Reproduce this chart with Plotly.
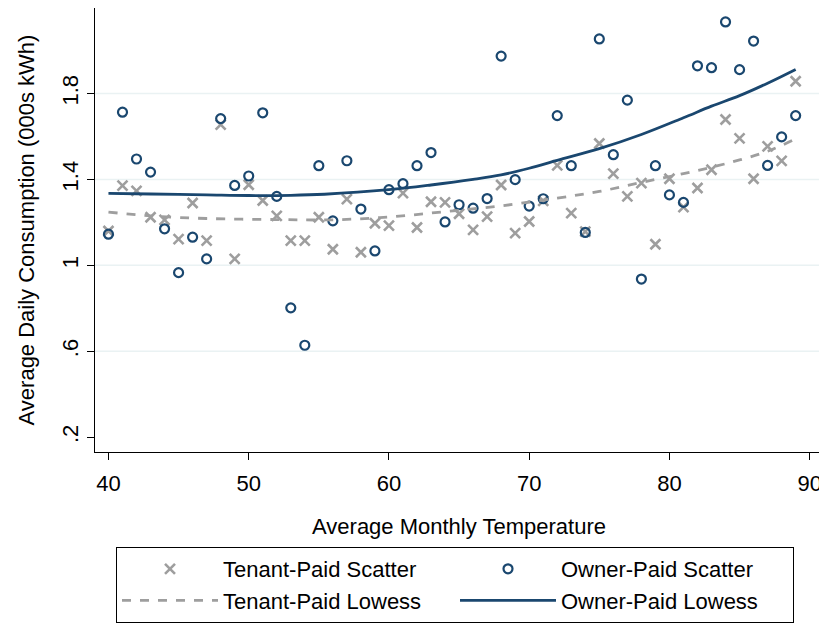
import plotly.graph_objects as go

temps = list(range(40, 90))

tenant_paid = [1.16, 1.371, 1.347, 1.224, 1.212, 1.122, 1.290, 1.115, 1.655, 1.030,
               1.375, 1.302, 1.230, 1.115, 1.115, 1.224, 1.075, 1.308, 1.061, 1.196,
               1.185, 1.336, 1.176, 1.296, 1.293, 1.240, 1.165, 1.227, 1.374, 1.150,
               1.204, 1.300, 1.465, 1.243, 1.157, 1.567, 1.427, 1.321, 1.383, 1.098,
               1.403, 1.271, 1.360, 1.445, 1.679, 1.591, 1.403, 1.554, 1.486, 1.857]

owner_paid = [1.145, 1.713, 1.495, 1.434, 1.170, 0.966, 1.131, 1.030, 1.683, 1.372,
              1.416, 1.710, 1.321, 0.802, 0.628, 1.464, 1.207, 1.487, 1.262, 1.067,
              1.352, 1.380, 1.464, 1.525, 1.202, 1.282, 1.266, 1.311, 1.974, 1.399,
              1.276, 1.310, 1.697, 1.464, 1.153, 2.054, 1.515, 1.769, 0.936, 1.464,
              1.328, 1.293, 1.929, 1.920, 2.133, 1.911, 2.044, 1.465, 1.598, 1.697]

lowess_x_owner = [40, 43, 47, 50, 53, 55.4, 60, 63, 66, 68, 70, 72, 75, 78, 81, 83, 85, 87, 89]
owner_lowess = [1.335, 1.332, 1.328, 1.325, 1.326, 1.331, 1.352, 1.374, 1.400, 1.421, 1.452,
                1.489, 1.543, 1.609, 1.687, 1.741, 1.790, 1.848, 1.912]

lowess_x_tenant = [40, 43, 47, 52, 56, 60, 64, 68, 72, 75, 78, 81, 84, 87, 89]
tenant_lowess = [1.248, 1.230, 1.218, 1.213, 1.212, 1.225, 1.250, 1.277, 1.313, 1.344,
                 1.386, 1.427, 1.473, 1.531, 1.589]

x_ticks = [40, 50, 60, 70, 80, 90]
y_ticks = [0.2, 0.6, 1.0, 1.4, 1.8]
y_tick_labels = [".2", ".6", "1", "1.4", "1.8"]
grid_vals = [0.6, 1.0, 1.4, 1.8]

NAVY = "#1a476f"
GRAY = "#9e9e9e"
FONT = "Liberation Sans, Arial, sans-serif"
FS = 22

# the page body adds an 8px offset, so the figure is 8px smaller and coordinates shifted
W, H = 819, 617

fig = go.Figure()

fig.add_trace(go.Scatter(
    x=temps, y=tenant_paid, mode="markers", name="Tenant-Paid Scatter",
    marker=dict(symbol="x-thin-open", size=10, color=GRAY, line=dict(color=GRAY, width=2.6)),
))
fig.add_trace(go.Scatter(
    x=temps, y=owner_paid, mode="markers", name="Owner-Paid Scatter",
    marker=dict(symbol="circle-open", size=9, color=NAVY, line=dict(color=NAVY, width=2.2)),
))
fig.add_trace(go.Scatter(
    x=lowess_x_tenant, y=tenant_lowess, mode="lines", name="Tenant-Paid Lowess",
    line=dict(color=GRAY, width=2.8, dash="dash", shape="spline"),
))
fig.add_trace(go.Scatter(
    x=lowess_x_owner, y=owner_lowess, mode="lines", name="Owner-Paid Lowess",
    line=dict(color=NAVY, width=2.8, shape="spline"),
))

shapes = [dict(type="line", xref="x domain", x0=0, x1=1, yref="y", y0=g, y1=g,
               line=dict(color="#eaf2f3", width=1.5), layer="below") for g in grid_vals]

fig.update_layout(
    width=W, height=H,
    margin=dict(l=0, r=0, t=0, b=0, autoexpand=False),
    paper_bgcolor="white", plot_bgcolor="white",
    font=dict(family=FONT, size=FS, color="black"),
    shapes=shapes,
    xaxis=dict(
        domain=[87 / W, 815 / W], automargin=False,
        range=[39.04, 90.95], tickvals=x_ticks, ticks="outside", ticklen=7, tickwidth=1.3,
        tickcolor="black", showline=True, linecolor="black", linewidth=1.3,
        showgrid=False, zeroline=False, ticklabelstandoff=4,
        title=dict(text="Average Monthly Temperature", font=dict(size=FS), standoff=24),
        tickfont=dict(size=FS),
    ),
    yaxis=dict(
        domain=[1 - 444 / H, 1.0], automargin=False,
        range=[0.131, 2.198], tickvals=y_ticks, ticktext=y_tick_labels, ticks="outside",
        ticklen=7, tickwidth=1.3, tickcolor="black", showline=True, linecolor="black",
        linewidth=1.3, showgrid=False, zeroline=False, tickangle=-90,
        title=dict(text="Average Daily Consumption (000s kWh)", font=dict(size=FS), standoff=17),
        tickfont=dict(size=FS),
    ),
    legend=dict(
        orientation="h", x=108 / W, y=2 / H, xanchor="left", yanchor="bottom",
        bordercolor="black", borderwidth=1, bgcolor="white",
        entrywidth=227, entrywidthmode="pixels",
        font=dict(size=FS), itemwidth=96,
    ),
)

fig.write_html("out.html")
